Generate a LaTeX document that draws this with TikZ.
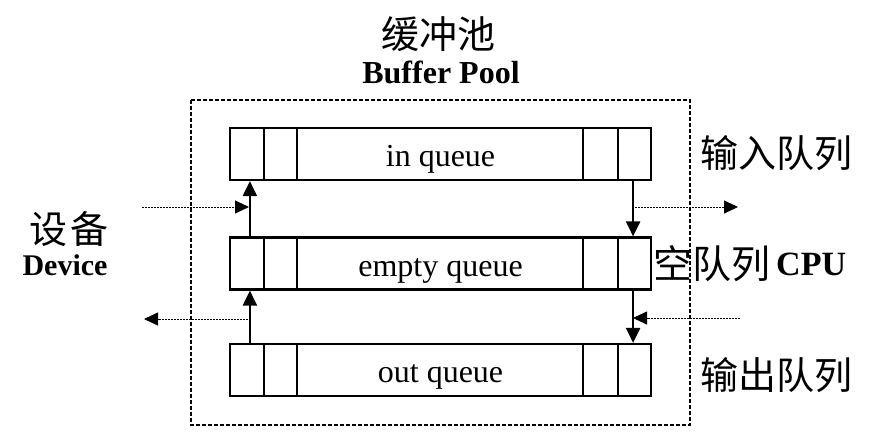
\documentclass[tikz,border=0pt]{standalone}
\usepackage{fontspec}
\setmainfont{Liberation Serif}
\newfontfamily\cjk{Noto Sans CJK SC}
\usetikzlibrary{arrows.meta,calc}
\begin{document}
\begin{tikzpicture}[x=1pt,y=-1pt,
  queuebox/.style={draw,line width=2.2pt,minimum width=421pt,minimum height=52pt,inner sep=0pt,text height=25pt,text depth=0pt,font=\fontsize{32}{36}\selectfont},
  divider/.style={line width=2.2pt},
  solidarr/.style={line width=2.2pt,-{Triangle[length=15pt,width=14pt]}},
  dotarr/.style={line width=0.9pt,dash pattern=on 2pt off 1pt,-{Triangle[length=14pt,width=13pt]}},
  cjklabel/.style={inner sep=0pt,font=\cjk\fontsize{38}{42}\selectfont},
  latinlabel/.style={inner sep=0pt,font=\bfseries\fontsize{30}{34}\selectfont}]
\useasboundingbox (0,0) rectangle (875,445);
\fill[white] (0,0) rectangle (875,445);
% pool outline
\draw[line width=1.2pt,dash pattern=on 4pt off 2pt] (191,100) rectangle (690,425);
% title
\node[cjklabel] (title) at (438,34) {缓冲池};
\node[latinlabel,font=\bfseries\fontsize{32}{34}\selectfont] (titleen) at (441,72) {Buffer Pool};
% queues
\node[queuebox] (qin) at (440.5,154) {in queue};
\node[queuebox] (qempty) at (440.5,263.5) {empty queue};
\node[queuebox] (qout) at (440.5,370) {out queue};
\foreach \q in {qin,qempty,qout}{
  \foreach \dx in {35,68}{
    \draw[divider] ($(\q.north west)+(\dx,0)$) -- ($(\q.south west)+(\dx,0)$);
  }
  \foreach \dx in {69,34}{
    \draw[divider] ($(\q.north east)+(-\dx,0)$) -- ($(\q.south east)+(-\dx,0)$);
  }
}
% solid arrows
\draw[solidarr] ($(qempty.north west)+(21,0)$) -- ($(qin.south west)+(21,0)$);
\draw[solidarr] ($(qout.north west)+(21,0)$) -- ($(qempty.south west)+(21,0)$);
\draw[solidarr] ($(qin.south east)+(-19,0)$) -- ($(qempty.north east)+(-19,0)$);
\draw[solidarr] ($(qempty.south east)+(-19,0)$) -- ($(qout.north east)+(-19,0)$);
% dotted arrows
\coordinate (devin) at (142,207);
\coordinate (devinend) at (249,207);
\coordinate (devout) at (144,319);
\coordinate (devoutstart) at (251,319);
\coordinate (cpuout) at (738,207);
\coordinate (cpuoutstart) at (632,207);
\coordinate (cpuin) at (740,318);
\coordinate (cpuinend) at (633,318);
\draw[dotarr] (devin) -- (devinend);
\draw[dotarr] (devoutstart) -- (devout);
\draw[dotarr] (cpuoutstart) -- (cpuout);
\draw[dotarr] (cpuin) -- (cpuinend);
% side labels
\node[cjklabel] (devcn) at (69,229) {设\hspace{4pt}备};
\node[latinlabel,font=\bfseries\fontsize{30}{32}\selectfont] (deven) at (65,265) {Device};
\node[cjklabel,anchor=west] (inlabel) at (700,153) {输入队列};
\node[cjklabel,anchor=west,font=\cjk\fontsize{39}{42}\selectfont] (emptylabel) at (653,264) {空队列\hspace{6pt}\raisebox{3pt}{\rmfamily\bfseries\fontsize{34}{36}\selectfont CPU}};
\node[cjklabel,anchor=west] (outlabel) at (700,375) {输出队列};
\end{tikzpicture}
\end{document}
